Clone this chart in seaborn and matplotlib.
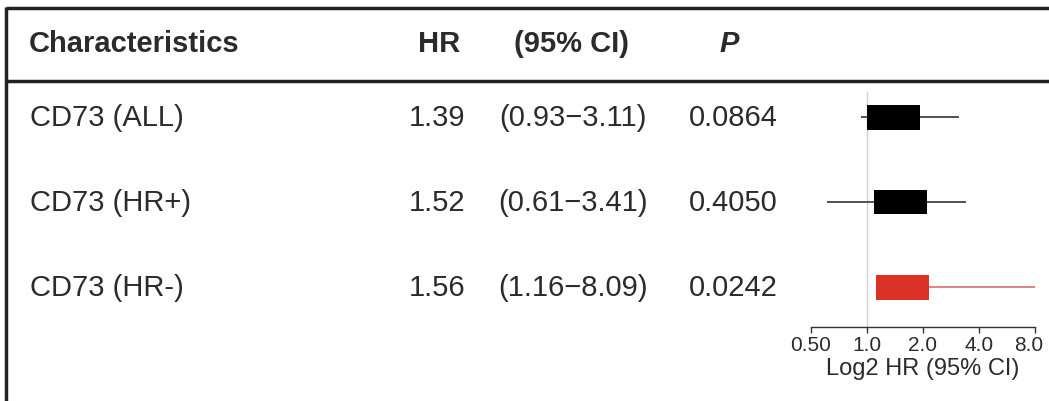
import numpy as np
import matplotlib
matplotlib.use("Agg")
import matplotlib.pyplot as plt
import matplotlib.transforms as mtransforms
import seaborn as sns

# data
labels = ["CD73 (ALL)", "CD73 (HR+)", "CD73 (HR-)"]
hr = [1.39, 1.52, 1.56]
ci_low = [0.93, 0.61, 1.16]
ci_high = [3.11, 3.41, 8.09]
p_values = ["0.0864", "0.4050", "0.0242"]
significant = [False, False, True]
x_ticks = [0.5, 1.0, 2.0, 4.0, 8.0]
x_ticklabels = ["0.50", "1.0", "2.0", "4.0", "8.0"]

sns.set_style("white")
plt.rcParams['font.family'] = ['Liberation Sans', 'DejaVu Sans']

W, H = 1049, 402
fig = plt.figure(figsize=(W / 100, H / 100), dpi=100)
fig.patch.set_facecolor("white")

txt_color = "#2b2b2b"
row_y = [118 + 85 * i for i in range(len(labels))]

# table part, laid out in pixel units
tab = fig.add_axes([0, 0, 1, 1])
tab.set_xlim(0, W)
tab.set_ylim(H, 0)
tab.axis("off")

tab.plot([6, W], [9, 9], color="#222222", lw=2.5, solid_capstyle="butt")
tab.plot([6, W], [82, 82], color="#222222", lw=2.5, solid_capstyle="butt")
tab.plot([6, 6], [8, H], color="#222222", lw=2.5, solid_capstyle="butt")

fs = 21
tab.text(29, 44, "Characteristics", fontsize=fs, fontweight="bold",
         ha="left", va="center", color=txt_color)
tab.text(439, 44, "HR", fontsize=fs, fontweight="bold",
         ha="center", va="center", color=txt_color)
tab.text(571, 44, "(95% CI)", fontsize=fs, fontweight="bold",
         ha="center", va="center", color=txt_color)
tab.text(729, 44, "P", fontsize=fs, fontweight="bold", fontstyle="italic",
         ha="center", va="center", color=txt_color)

for i, lab in enumerate(labels):
    y = row_y[i]
    tab.text(30, y, lab, fontsize=fs, ha="left", va="center", color=txt_color)
    tab.text(437, y, f"{hr[i]:.2f}", fontsize=fs, ha="center", va="center",
             color=txt_color)
    tab.text(573, y, f"({ci_low[i]:.2f}\u2212{ci_high[i]:.2f})", fontsize=fs,
             ha="center", va="center", color=txt_color)
    tab.text(733, y, p_values[i], fontsize=fs, ha="center", va="center",
             color=txt_color)

# forest part
x0, x1 = 811, 1035
ytop, ybot = 93, 328
ax = fig.add_axes([x0 / W, 1 - ybot / H, (x1 - x0) / W, (ybot - ytop) / H])
ax.set_facecolor("none")
ax.set_xscale("log", base=2)
ax.set_xlim(0.5, 8)

# rows mapped so that they fall on the same pixel rows as the table
px_per_row = 85
ylo = -(row_y[0] - ytop) / px_per_row
yhi = ylo + (ybot - ytop) / px_per_row
ax.set_ylim(yhi, ylo)

ax.axvline(1.0, color="#cfcfcf", lw=1, zorder=1)

half = 2 ** (53 / 56 / 2)  # fixed box width in log2 units
box_h = 25 / px_per_row
for i in range(len(labels)):
    col = "#dc3226" if significant[i] else "#000000"
    wcol = "#e07a7a" if significant[i] else "#444444"
    ax.hlines(i, ci_low[i], ci_high[i], color=wcol, lw=1.3, zorder=2)
    left = hr[i] / half
    ax.barh(i, hr[i] * half - left, left=left, height=box_h, color=col,
            edgecolor="none", zorder=3)

sns.despine(ax=ax, left=True, top=True, right=True)
ax.spines["bottom"].set_color("#333333")
ax.spines["bottom"].set_linewidth(1)
ax.set_yticks([])
ax.set_xticks(x_ticks)
ax.set_xticklabels(x_ticklabels)
ax.xaxis.set_minor_locator(matplotlib.ticker.NullLocator())
ax.tick_params(axis="x", direction="out", length=4, width=1, color="#333333",
               labelsize=15, labelcolor=txt_color, pad=2, bottom=True)
# nudge the last label so it stays inside the figure
last = ax.get_xticklabels()[-1]
last.set_transform(last.get_transform() +
                   mtransforms.ScaledTranslation(-6 / 100, 0, fig.dpi_scale_trans))
ax.set_xlabel("Log2 HR (95% CI)", fontsize=17, color=txt_color, labelpad=2)

fig.savefig("out.png", dpi=100, facecolor="white")
